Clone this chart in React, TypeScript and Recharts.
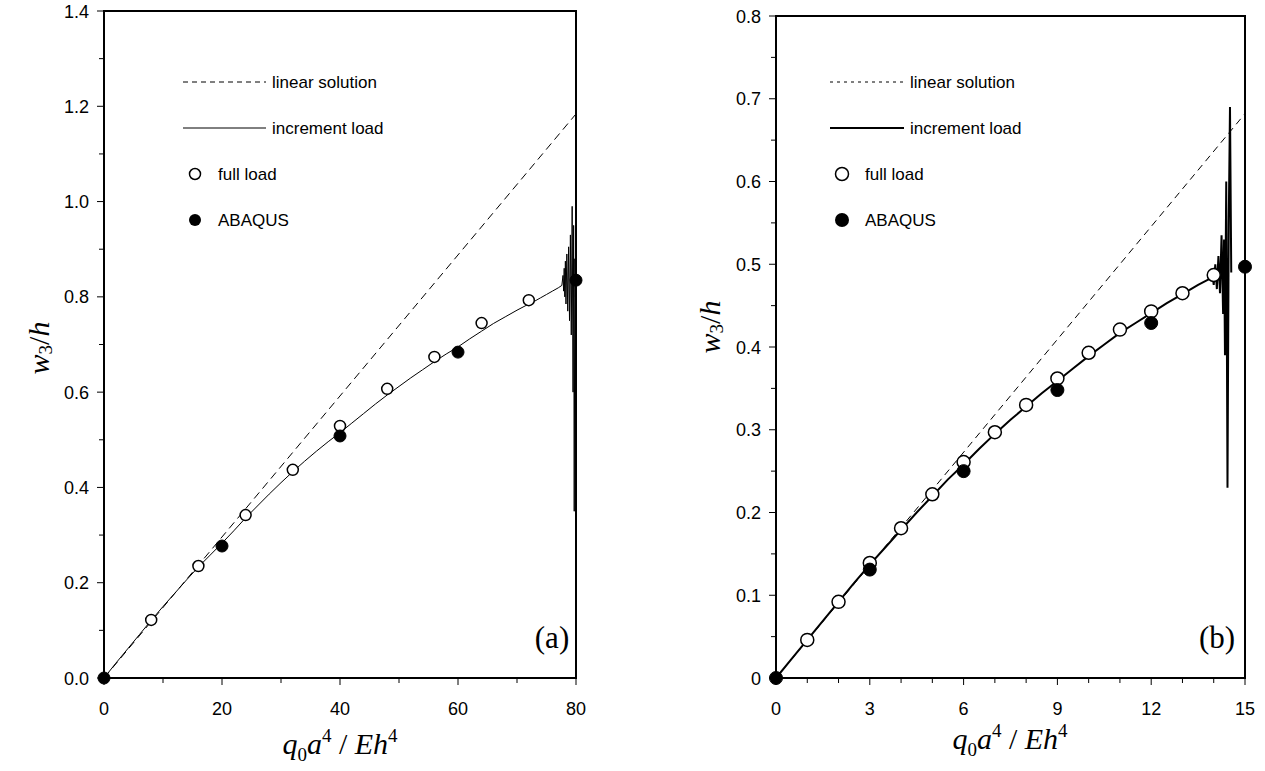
import React from "react";
import { ComposedChart, Line, Scatter, XAxis, YAxis, ReferenceArea } from "recharts";

const SANS = '"Liberation Sans", Arial, sans-serif';
const SERIF = '"Liberation Serif", "Times New Roman", serif';

// ---- panel (a) ----
const A_X_TICKS = [0, 10, 20, 30, 40, 50, 60, 70, 80];
const A_Y_TICKS = [0, 0.1, 0.2, 0.3, 0.4, 0.5, 0.6, 0.7, 0.8, 0.9, 1.0, 1.1, 1.2, 1.3, 1.4];
const A_LINEAR_X = [0, 80];
const A_LINEAR_Y = [0, 1.184];
const A_INC_X = [
  0, 2, 4, 6, 8, 10, 12, 14, 16, 18, 20, 22, 24, 26, 28, 30, 32, 34, 36, 38, 40, 42, 44, 46, 48,
  50, 52, 54, 56, 58, 60, 62, 64, 66, 68, 70, 72, 73, 74, 75, 76, 77, 77.6, 77.8, 77.9, 78.0,
  78.1, 78.2, 78.3, 78.45, 78.6, 78.75, 78.9, 79.05, 79.2, 79.35, 79.5, 79.6, 79.7, 79.8, 79.9, 80,
];
const A_INC_Y = [
  0, 0.031, 0.061, 0.091, 0.121, 0.15, 0.178, 0.206, 0.233, 0.258, 0.283, 0.309, 0.336, 0.361,
  0.386, 0.41, 0.433, 0.455, 0.476, 0.496, 0.515, 0.535, 0.555, 0.575, 0.594, 0.612, 0.63, 0.647,
  0.664, 0.68, 0.695, 0.712, 0.728, 0.744, 0.758, 0.772, 0.785, 0.791, 0.798, 0.805, 0.812, 0.819,
  0.824, 0.845, 0.812, 0.86, 0.8, 0.875, 0.785, 0.89, 0.77, 0.905, 0.75, 0.93, 0.72, 0.99, 0.6,
  0.95, 0.35, 0.88, 0.8, 0.835,
];
const A_FULL_X = [8, 16, 24, 32, 40, 48, 56, 64, 72];
const A_FULL_Y = [0.122, 0.235, 0.342, 0.437, 0.529, 0.607, 0.674, 0.745, 0.793];
const A_ABQ_X = [0, 20, 40, 60, 80];
const A_ABQ_Y = [0, 0.277, 0.508, 0.684, 0.835];

// ---- panel (b) ----
const B_X_TICKS = [0, 1, 2, 3, 4, 5, 6, 7, 8, 9, 10, 11, 12, 13, 14, 15];
const B_Y_TICKS = [
  0, 0.05, 0.1, 0.15, 0.2, 0.25, 0.3, 0.35, 0.4, 0.45, 0.5, 0.55, 0.6, 0.65, 0.7, 0.75, 0.8,
];
const B_LINEAR_X = [0, 15];
const B_LINEAR_Y = [0, 0.682];
const B_INC_X = [
  0, 0.5, 1, 1.5, 2, 2.5, 3, 3.5, 4, 4.5, 5, 5.5, 6, 6.5, 7, 7.5, 8, 8.5, 9, 9.5, 10, 10.5, 11,
  11.5, 12, 12.5, 13, 13.5, 13.9, 13.95, 14.0, 14.05, 14.1, 14.15, 14.2, 14.25, 14.3, 14.33, 14.36,
  14.4, 14.44, 14.48, 14.52, 14.56,
];
const B_INC_Y = [
  0, 0.023, 0.046, 0.069, 0.092, 0.115, 0.137, 0.158, 0.179, 0.2, 0.22, 0.24, 0.258, 0.277, 0.295,
  0.312, 0.328, 0.344, 0.359, 0.374, 0.389, 0.403, 0.417, 0.429, 0.441, 0.453, 0.464, 0.475, 0.483,
  0.49, 0.475, 0.5, 0.47, 0.51, 0.465, 0.535, 0.44, 0.53, 0.39, 0.6, 0.23, 0.55, 0.69, 0.49,
];
const B_FULL_X = [1, 2, 3, 4, 5, 6, 7, 8, 9, 10, 11, 12, 13, 14];
const B_FULL_Y = [
  0.046, 0.092, 0.139, 0.181, 0.222, 0.261, 0.297, 0.33, 0.362, 0.393, 0.421, 0.443, 0.465, 0.487,
];
const B_ABQ_X = [0, 3, 6, 9, 12, 15];
const B_ABQ_Y = [0, 0.131, 0.25, 0.348, 0.429, 0.497];

const zip = (xs: number[], ys: number[]) => xs.map((x, i) => ({ x, y: ys[i] }));

const openDot = (r: number) => (p: any) =>
  <circle cx={p.cx} cy={p.cy} r={r} fill="#fff" stroke="#000" strokeWidth={1.5} />;
const fullDot = (r: number) => (p: any) =>
  <circle cx={p.cx} cy={p.cy} r={r} fill="#000" stroke="#000" strokeWidth={1} />;

function XTick({ x, y, payload, isMajor }: any) {
  const major = isMajor(payload.value);
  return (
    <g>
      <line x1={x} x2={x} y1={y} y2={y + (major ? 7 : 5)} stroke="#000" strokeWidth={1} />
      {major && (
        <text x={x} y={y + 37} textAnchor="middle" fontFamily={SANS} fontSize={18} fill="#000">
          {payload.value}
        </text>
      )}
    </g>
  );
}

function YTick({ x, y, payload, isMajor, fmt }: any) {
  const major = isMajor(payload.value);
  return (
    <g>
      <line x1={x} x2={x - (major ? 7 : 5)} y1={y} y2={y} stroke="#000" strokeWidth={1} />
      {major && (
        <text x={x - 15} y={y + 6.5} textAnchor="end" fontFamily={SANS} fontSize={18} fill="#000">
          {fmt(payload.value)}
        </text>
      )}
    </g>
  );
}

function XTitle({ cx, y }: { cx: number; y: number }) {
  return (
    <text x={cx} y={y} textAnchor="middle" fontFamily={SERIF} fontSize={30} fill="#000">
      <tspan fontStyle="italic">q</tspan>
      <tspan fontSize={19} dy={7}>0</tspan>
      <tspan fontStyle="italic" dy={-7}>a</tspan>
      <tspan fontSize={19} dy={-12}>4</tspan>
      <tspan dy={12}> / </tspan>
      <tspan fontStyle="italic">Eh</tspan>
      <tspan fontSize={19} dy={-12}>4</tspan>
    </text>
  );
}

function YTitle({ cx, cy }: { cx: number; cy: number }) {
  return (
    <text
      x={cx}
      y={cy}
      transform={`rotate(-90 ${cx} ${cy})`}
      textAnchor="middle"
      dominantBaseline="central"
      fontFamily={SERIF}
      fontSize={30}
      fill="#000"
    >
      <tspan fontStyle="italic">w</tspan>
      <tspan fontSize={19} dy={7}>3</tspan>
      <tspan dy={-7}>/</tspan>
      <tspan fontStyle="italic">h</tspan>
    </text>
  );
}

function LegendBox({ x0, tx, cxDot, dash, lineWidth, r }: any) {
  const t = { fontFamily: SANS, fontSize: 17, fill: "#000" };
  return (
    <g>
      <line x1={x0} x2={tx - 6} y1={82} y2={82} stroke="#000" strokeWidth={1} strokeDasharray={dash} />
      <text x={tx} y={88} {...t}>linear solution</text>
      <line x1={x0} x2={tx - 6} y1={128} y2={128} stroke="#000" strokeWidth={lineWidth} />
      <text x={tx} y={134} {...t}>increment load</text>
      <circle cx={cxDot} cy={174} r={r} fill="#fff" stroke="#000" strokeWidth={1.5} />
      <text x={cxDot + 23} y={180} {...t}>full load</text>
      <circle cx={cxDot} cy={220} r={r + 0.5} fill="#000" />
      <text x={cxDot + 23} y={226} {...t}>ABAQUS</text>
    </g>
  );
}

export default function App() {
  const aMajorX = (v: number) => v % 20 === 0;
  const aMajorY = (v: number) => Math.round(v * 10) % 2 === 0;
  const bMajorX = (v: number) => v % 3 === 0;
  const bMajorY = (v: number) => Math.round(v * 100) % 10 === 0;

  return (
    <div style={{ position: "absolute", left: 0, top: 0, width: 1265, height: 771, background: "#fff" }}>
      <div style={{ position: "absolute", left: 0, top: 0 }}>
        <ComposedChart width={620} height={771} margin={{ top: 11, right: 44, bottom: 0, left: 0 }}>
          <XAxis
            type="number"
            dataKey="x"
            domain={[0, 80]}
            ticks={A_X_TICKS}
            interval={0}
            height={93}
            tickSize={0}
            tickMargin={0}
            tickLine={false}
            axisLine={{ stroke: "#000", strokeWidth: 2 }}
            tick={(p: any) => <XTick {...p} isMajor={aMajorX} />}
          />
          <YAxis
            type="number"
            dataKey="y"
            domain={[0, 1.4]}
            ticks={A_Y_TICKS}
            interval={0}
            width={104}
            tickSize={0}
            tickMargin={0}
            tickLine={false}
            axisLine={{ stroke: "#000", strokeWidth: 2 }}
            tick={(p: any) => <YTick {...p} isMajor={aMajorY} fmt={(v: number) => v.toFixed(1)} />}
          />
          <ReferenceArea x1={0} x2={80} y1={0} y2={1.4} fill="none" stroke="#000" strokeWidth={2} />
          <Line
            data={zip(A_LINEAR_X, A_LINEAR_Y)}
            dataKey="y"
            type="linear"
            stroke="#000"
            strokeWidth={1}
            strokeDasharray="8 5"
            dot={false}
            isAnimationActive={false}
          />
          <Line
            data={zip(A_INC_X, A_INC_Y)}
            dataKey="y"
            type="linear"
            stroke="#000"
            strokeWidth={1}
            dot={false}
            isAnimationActive={false}
          />
          <Scatter data={zip(A_FULL_X, A_FULL_Y)} dataKey="y" shape={openDot(5.5)} isAnimationActive={false} />
          <Scatter data={zip(A_ABQ_X, A_ABQ_Y)} dataKey="y" shape={fullDot(6)} isAnimationActive={false} />
          <LegendBox x0={183} tx={272} cxDot={195} dash="5 4" lineWidth={1} r={5.5} />
          <text x={552} y={648} textAnchor="middle" fontFamily={SERIF} fontSize={31} fill="#000">(a)</text>
          <XTitle cx={340} y={754} />
          <YTitle cx={38} cy={348} />
        </ComposedChart>
      </div>

      <div style={{ position: "absolute", left: 640, top: 0 }}>
        <ComposedChart width={625} height={771} margin={{ top: 16, right: 20, bottom: 0, left: 0 }}>
          <XAxis
            type="number"
            dataKey="x"
            domain={[0, 15]}
            ticks={B_X_TICKS}
            interval={0}
            height={93}
            tickSize={0}
            tickMargin={0}
            tickLine={false}
            axisLine={{ stroke: "#000", strokeWidth: 2 }}
            tick={(p: any) => <XTick {...p} isMajor={bMajorX} />}
          />
          <YAxis
            type="number"
            dataKey="y"
            domain={[0, 0.8]}
            ticks={B_Y_TICKS}
            interval={0}
            width={136}
            tickSize={0}
            tickMargin={0}
            tickLine={false}
            axisLine={{ stroke: "#000", strokeWidth: 2 }}
            tick={(p: any) => (
              <YTick {...p} isMajor={bMajorY} fmt={(v: number) => (v === 0 ? "0" : v.toFixed(1))} />
            )}
          />
          <ReferenceArea x1={0} x2={15} y1={0} y2={0.8} fill="none" stroke="#000" strokeWidth={2} />
          <Line
            data={zip(B_LINEAR_X, B_LINEAR_Y)}
            dataKey="y"
            type="linear"
            stroke="#000"
            strokeWidth={1}
            strokeDasharray="7 5"
            dot={false}
            isAnimationActive={false}
          />
          <Line
            data={zip(B_INC_X, B_INC_Y)}
            dataKey="y"
            type="linear"
            stroke="#000"
            strokeWidth={2}
            dot={false}
            isAnimationActive={false}
          />
          <Scatter data={zip(B_FULL_X, B_FULL_Y)} dataKey="y" shape={openDot(6.5)} isAnimationActive={false} />
          <Scatter data={zip(B_ABQ_X, B_ABQ_Y)} dataKey="y" shape={fullDot(6.5)} isAnimationActive={false} />
          <LegendBox x0={190} tx={270} cxDot={202} dash="3 4" lineWidth={2} r={6.5} />
          <text x={577} y={648} textAnchor="middle" fontFamily={SERIF} fontSize={31} fill="#000">(b)</text>
          <XTitle cx={370} y={749} />
          <YTitle cx={69} cy={327} />
        </ComposedChart>
      </div>
    </div>
  );
}
